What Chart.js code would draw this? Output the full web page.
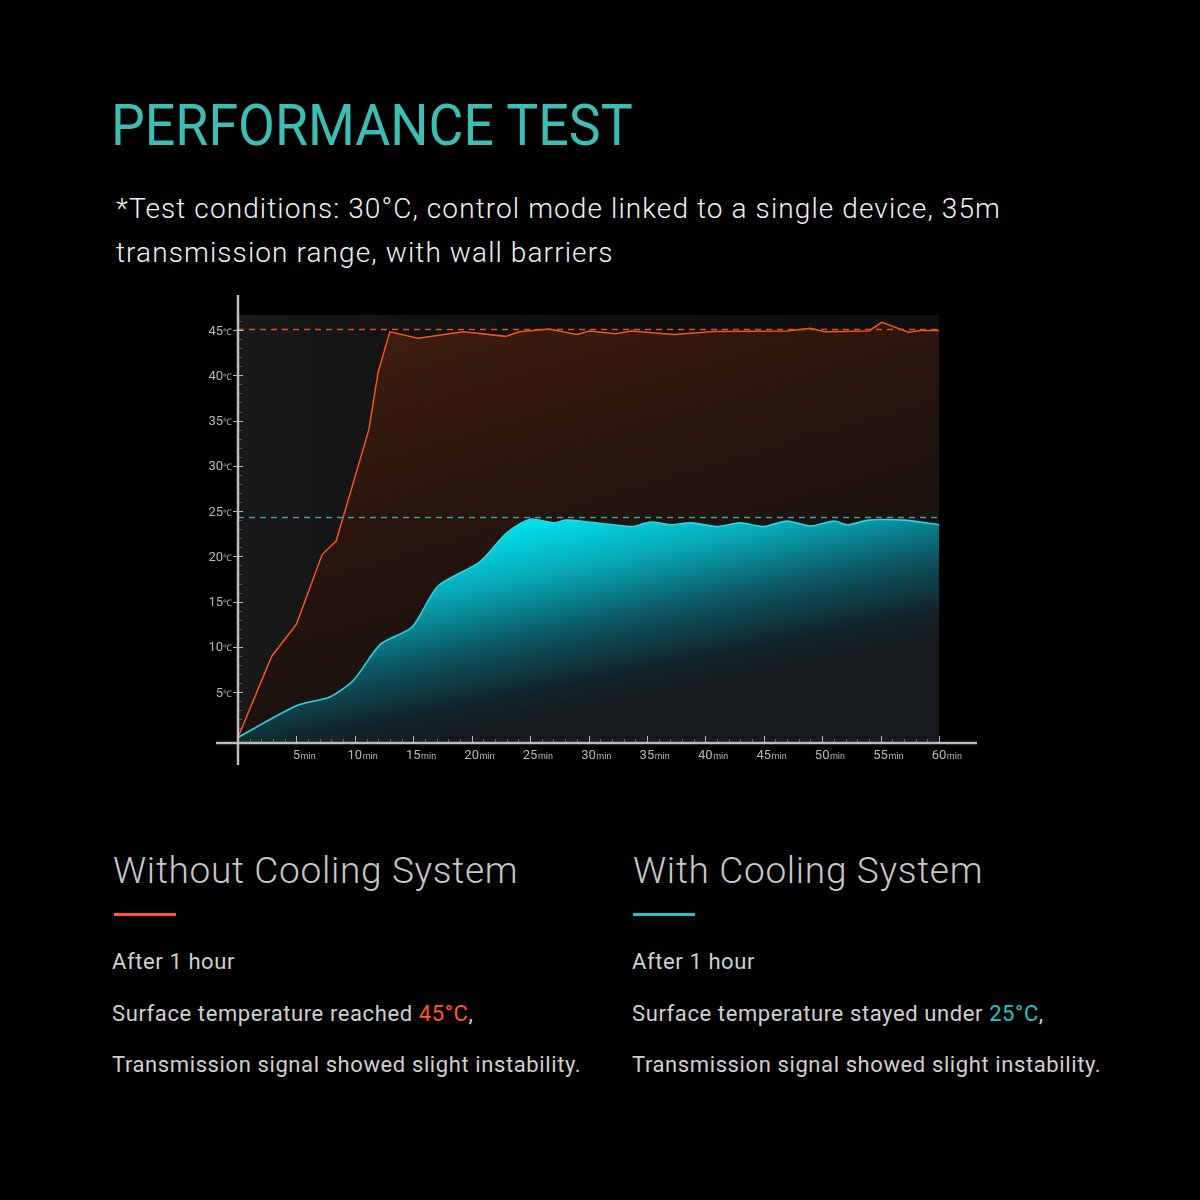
<!DOCTYPE html>
<html>
<head>
<meta charset="utf-8">
<script src="https://cdn.jsdelivr.net/npm/chart.js@4.4.1/dist/chart.umd.min.js"></script>
<style>
html, body { margin: 0; padding: 0; background: #000; }
body { width: 1200px; height: 1200px; position: relative; overflow: hidden; font-family: Roboto, 'Noto Sans', sans-serif; }
.t { position: absolute; white-space: nowrap; line-height: 1; }
.sub { font-size: 28px; color: #f2f2f2; font-weight: 300; letter-spacing: 1.1px; }
.head { font-size: 37px; color: #c8c8c8; font-weight: 300; letter-spacing: 0.7px; }
.body { font-size: 22px; color: #d0d0d0; letter-spacing: 0.6px; }
.bar { position: absolute; width: 62px; height: 3px; }
#wrap { position: absolute; left: 0; top: 280px; width: 1200px; height: 520px; }
</style>
</head>
<body>
<div class="t" style="left:111px;top:96px;font-size:58px;color:#3dbdb3;transform:scaleX(0.925);transform-origin:0 0;">PERFORMANCE TEST</div>
<div class="t sub" style="left:116px;top:195px;">*Test conditions: 30°C, control mode linked to a single device, 35m</div>
<div class="t sub" style="left:116px;top:239px;">transmission range, with wall barriers</div>

<div id="wrap"><canvas id="chart" width="1200" height="520"></canvas></div>

<div class="t head" style="left:113px;top:852px;">Without Cooling System</div>
<div class="bar" style="left:114px;top:913px;background:#ff5a1f;"></div>
<div class="t body" style="left:112px;top:951px;">After 1 hour</div>
<div class="t body" style="left:112px;top:1003px;">Surface temperature reached <span style="color:#ff5a1f">45°C</span>,</div>
<div class="t body" style="left:112px;top:1054px;">Transmission signal showed slight instability.</div>

<div class="t head" style="left:633px;top:852px;">With Cooling System</div>
<div class="bar" style="left:633px;top:913px;background:#1fc4c4;"></div>
<div class="t body" style="left:632px;top:951px;">After 1 hour</div>
<div class="t body" style="left:632px;top:1003px;">Surface temperature stayed under <span style="color:#1fc4c4">25°C</span>,</div>
<div class="t body" style="left:632px;top:1054px;">Transmission signal showed slight instability.</div>

<script>
// readings taken off the test curves (minutes, °C)
const hotMinutes = [0, 2.9, 5, 7.2, 8.4, 11.2, 12, 13, 15.4, 19.3, 22.9, 24.1, 26.6, 29, 30.1, 32.3, 33.7, 37.3, 40.7, 47, 49, 50.2, 54, 55.1, 57.4, 58.4, 60];
const hotTemps = [0, 9.0, 12.5, 20.2, 21.7, 34.0, 40.4, 44.8, 44.1, 44.8, 44.3, 44.8, 45.1, 44.5, 44.9, 44.6, 44.9, 44.5, 44.85, 44.9, 45.2, 44.8, 44.9, 45.85, 44.75, 44.95, 44.95];

const coolMinutes = [0, 5, 7.9, 9.9, 12.2, 14.9, 17.1, 20.7, 23, 25, 27, 28.1, 30, 32.1, 33.8, 35.3, 37, 38.8, 41, 43, 45, 47, 49, 51, 52.2, 54, 57, 60];
const coolTemps = [0, 3.5, 4.5, 6.35, 10.3, 12.2, 16.7, 19.4, 22.6, 24.1, 23.7, 24.0, 23.8, 23.5, 23.3, 23.8, 23.5, 23.7, 23.3, 23.7, 23.3, 23.9, 23.35, 23.9, 23.5, 24.0, 24.0, 23.5];

// dashed guide levels
const hotLimit = 45.1;
const coolLimit = 24.3;

const xTickMinutes = [5, 10, 15, 20, 25, 30, 35, 40, 45, 50, 55, 60];
const yTickTemps = [5, 10, 15, 20, 25, 30, 35, 40, 45];

const toPoints = (xs, ys) => xs.map((x, i) => ({ x: x, y: ys[i] }));

// dark plot panel behind the curves
const plotBackground = {
    id: 'plotBackground',
    beforeDraw(chart) {
        const { ctx, chartArea: a } = chart;
        const g = ctx.createLinearGradient(a.left, a.top, a.right, a.top);
        g.addColorStop(0, '#191919');
        g.addColorStop(0.3, '#121212');
        g.addColorStop(1, '#0f0f0f');
        ctx.save();
        ctx.fillStyle = g;
        ctx.fillRect(a.left, a.top, a.right - a.left, a.bottom - a.top);
        ctx.restore();
    }
};

// dashed lines at the two plateau levels
const guideLines = {
    id: 'guideLines',
    afterDatasetsDraw(chart) {
        const { ctx, chartArea: a, scales } = chart;
        ctx.save();
        ctx.lineWidth = 1.3;
        ctx.setLineDash([6, 5]);
        [[hotLimit, '#d9521f'], [coolLimit, '#3a9ea6']].forEach(([v, c]) => {
            const y = Math.round(scales.y.getPixelForValue(v)) + 0.5;
            ctx.strokeStyle = c;
            ctx.beginPath();
            ctx.moveTo(a.left, y);
            ctx.lineTo(a.right, y);
            ctx.stroke();
        });
        ctx.restore();
    }
};

// axis lines, ticks and "5min" / "5℃" labels with small unit text
const axesDraw = {
    id: 'axesDraw',
    afterDraw(chart) {
        const { ctx, chartArea: a, scales } = chart;
        const xs = scales.x, ys = scales.y;
        const x0 = xs.getPixelForValue(0);
        const yb = a.bottom + 1;
        ctx.save();

        // minor / major ticks
        ctx.lineWidth = 1;
        for (let m = 1; m <= 60; m++) {
            const x = Math.round(xs.getPixelForValue(m)) + 0.5;
            const major = m % 5 === 0;
            ctx.strokeStyle = major ? 'rgba(200,200,200,0.9)' : 'rgba(170,170,170,0.5)';
            ctx.beginPath();
            ctx.moveTo(x, yb);
            ctx.lineTo(x, yb - (major ? 7 : 4));
            ctx.stroke();
        }
        for (let t = 1; t <= 46; t++) {
            const y = Math.round(ys.getPixelForValue(t)) + 0.5;
            const major = t % 5 === 0;
            ctx.strokeStyle = major ? 'rgba(200,200,200,0.9)' : 'rgba(150,150,150,0.45)';
            ctx.beginPath();
            ctx.moveTo(major ? x0 - 5 : x0, y);
            ctx.lineTo(x0 + (major ? 5 : 4), y);
            ctx.stroke();
        }

        // axis lines
        ctx.strokeStyle = '#bdbdbd';
        ctx.lineWidth = 2.5;
        ctx.beginPath();
        ctx.moveTo(x0, a.top - 20);
        ctx.lineTo(x0, a.bottom + 23);
        ctx.moveTo(a.left - 22, yb);
        ctx.lineTo(a.right + 38, yb);
        ctx.stroke();

        // labels
        ctx.fillStyle = '#b8b8b8';
        ctx.textBaseline = 'alphabetic';
        xTickMinutes.forEach(m => {
            const x = xs.getPixelForValue(m);
            ctx.font = '13px Roboto';
            const num = String(m);
            const w = ctx.measureText(num).width;
            ctx.textAlign = 'left';
            ctx.fillText(num, x - w / 2, yb + 16);
            ctx.font = '9px Roboto';
            ctx.fillText('min', x + w / 2 + 0.5, yb + 16);
        });
        yTickTemps.forEach(t => {
            const y = ys.getPixelForValue(t);
            ctx.font = '9px Roboto';
            const uw = ctx.measureText('℃').width;
            ctx.textAlign = 'right';
            ctx.fillText('℃', x0 - 6, y + 4.5);
            ctx.font = '13px Roboto';
            ctx.fillText(String(t), x0 - 6 - uw, y + 4.5);
        });
        ctx.restore();
    }
};

new Chart(document.getElementById('chart'), {
    type: 'line',
    data: {
        datasets: [
            {
                label: 'With Cooling System',
                data: toPoints(coolMinutes, coolTemps),
                borderColor: '#2ad6e2',
                borderWidth: 1.6,
                tension: 0.25,
                pointRadius: 0,
                fill: 'start',
                order: 0,
                backgroundColor: (c) => {
                    const { chart } = c;
                    const a = chart.chartArea;
                    if (!a) return '#0b6f7a';
                    const ys = chart.scales.y, xs = chart.scales.x;
                    const g = chart.ctx.createLinearGradient(xs.getPixelForValue(23), ys.getPixelForValue(24.2), xs.getPixelForValue(26.5), ys.getPixelForValue(2));
                    g.addColorStop(0, '#00e8f4');
                    g.addColorStop(0.3, '#08a9b8');
                    g.addColorStop(0.6, '#0c5561');
                    g.addColorStop(0.85, '#12252b');
                    g.addColorStop(1, '#161a1c');
                    return g;
                }
            },
            {
                label: 'Without Cooling System',
                data: toPoints(hotMinutes, hotTemps),
                borderColor: '#f2551d',
                borderWidth: 1.5,
                tension: 0,
                pointRadius: 0,
                fill: 'start',
                order: 1,
                backgroundColor: (c) => {
                    const { chart } = c;
                    const a = chart.chartArea;
                    if (!a) return '#2a150d';
                    const ys = chart.scales.y;
                    const g = chart.ctx.createLinearGradient(a.left, ys.getPixelForValue(45), a.left + 120, a.bottom);
                    g.addColorStop(0, '#43200f');
                    g.addColorStop(0.5, '#2a150d');
                    g.addColorStop(1, '#161210');
                    return g;
                }
            }
        ]
    },
    options: {
        responsive: false,
        animation: false,
        devicePixelRatio: 1,
        layout: { padding: { left: 238, right: 261, top: 35, bottom: 58 } },
        scales: {
            x: { type: 'linear', min: 0, max: 60, display: false },
            y: { type: 'linear', min: -0.5, max: 46.66, display: false }
        },
        plugins: {
            legend: { display: false },
            tooltip: { enabled: false }
        }
    },
    plugins: [plotBackground, guideLines, axesDraw]
});
</script>
</body>
</html>
